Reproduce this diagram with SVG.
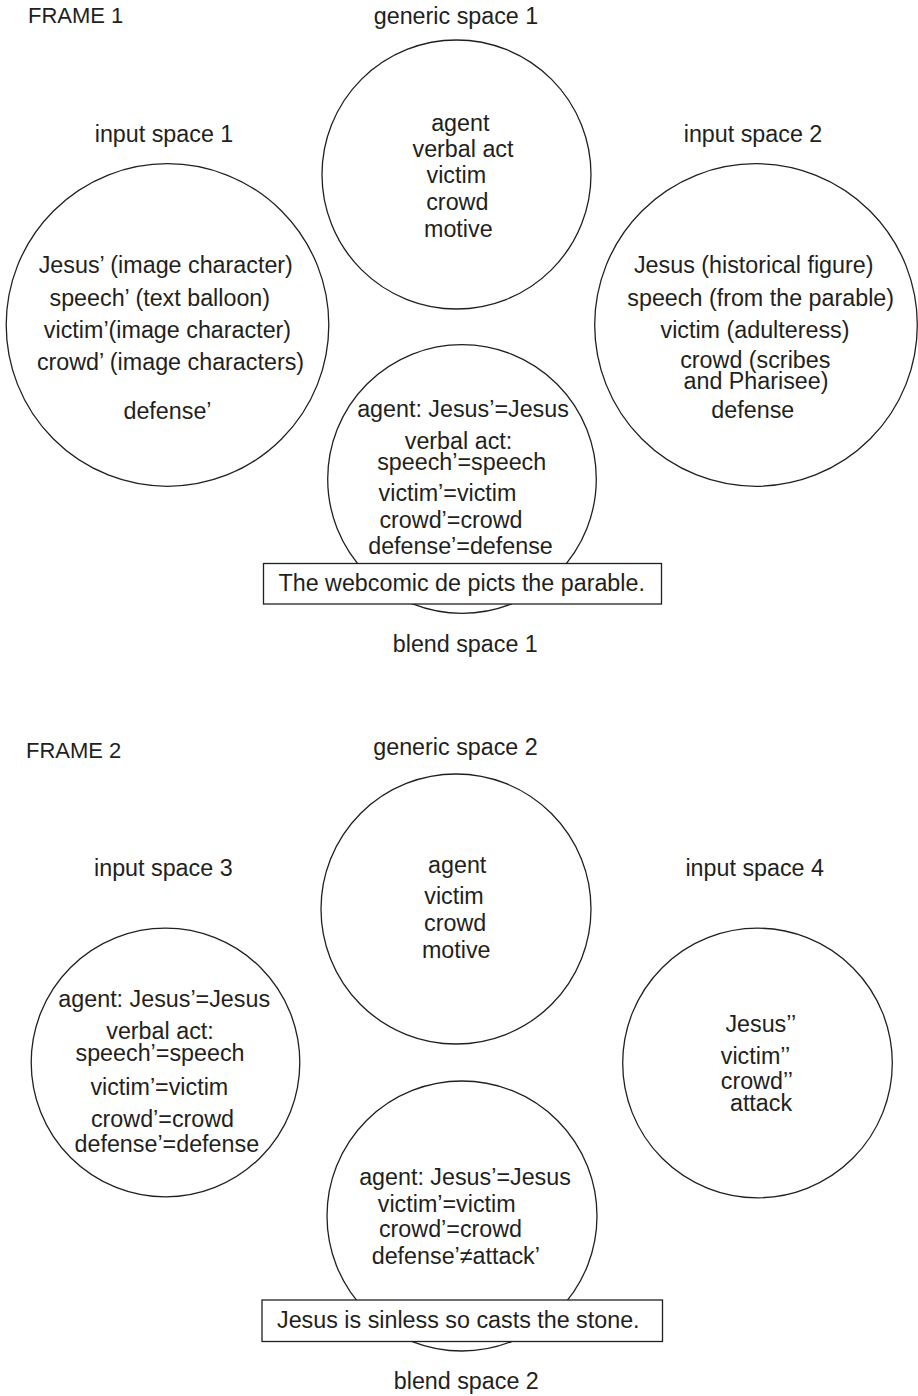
<svg xmlns="http://www.w3.org/2000/svg" width="918" height="1396" viewBox="0 0 918 1396">
<style>
text{font-family:"Liberation Sans",Arial,sans-serif;font-size:23.3px;fill:#231f20}
.c{text-anchor:middle}
.f{font-size:22px}
.sp{fill:#fff;stroke:#231f20;stroke-width:1.3}
.bx{fill:#fff;stroke:#231f20;stroke-width:1.3}
</style>
<rect width="918" height="1396" fill="#fff"/>
<text class="f" x="28" y="23.3">FRAME 1</text>
<g id="generic1">
<circle class="sp" cx="456.5" cy="174.5" r="134.5"/>
<text class="c" x="456" y="24">generic space 1</text>
<text class="c" x="460.3" y="131">agent</text>
<text class="c" x="463" y="157">verbal act</text>
<text class="c" x="456.3" y="183">victim</text>
<text class="c" x="457.3" y="210">crowd</text>
<text class="c" x="458.3" y="236.7">motive</text>
</g>
<g id="input1">
<circle class="sp" cx="167.5" cy="325" r="161.3"/>
<text class="c" x="164" y="141.7">input space 1</text>
<text class="c" x="165.8" y="273.3">Jesus’ (image character)</text>
<text class="c" x="159.8" y="306">speech’ (text balloon)</text>
<text class="c" x="167.5" y="338.3">victim’(image character)</text>
<text class="c" x="170.5" y="370">crowd’ (image characters)</text>
<text class="c" x="167.5" y="419.3">defense’</text>
</g>
<g id="input2">
<circle class="sp" cx="756" cy="325" r="161.3"/>
<text class="c" x="753" y="141.7">input space 2</text>
<text class="c" x="753.7" y="273.3">Jesus (historical figure)</text>
<text class="c" x="760.7" y="306">speech (from the parable)</text>
<text class="c" x="755" y="338.3">victim (adulteress)</text>
<text class="c" x="755.3" y="368.3">crowd (scribes</text>
<text class="c" x="756" y="389.3">and Pharisee)</text>
<text class="c" x="752.8" y="418.3">defense</text>
</g>
<g id="blend1">
<circle class="sp" cx="462" cy="479" r="134.3"/>
<text class="c" x="463" y="417.3">agent: Jesus’=Jesus</text>
<text class="c" x="458.5" y="449">verbal act:</text>
<text class="c" x="461.7" y="470">speech’=speech</text>
<text class="c" x="447.5" y="501">victim’=victim</text>
<text class="c" x="451" y="528.3">crowd’=crowd</text>
<text class="c" x="460.5" y="554">defense’=defense</text>
<rect class="bx" x="263.5" y="563.5" width="398" height="40.5"/>
<text class="c" x="461.7" y="590.7">The webcomic de picts the parable.</text>
<text class="c" x="465.3" y="651.7">blend space 1</text>
</g>
<text class="f" x="26" y="758.3">FRAME 2</text>
<g id="generic2">
<circle class="sp" cx="456" cy="909" r="135"/>
<text class="c" x="455.5" y="755">generic space 2</text>
<text class="c" x="457.2" y="873.3">agent</text>
<text class="c" x="454" y="904">victim</text>
<text class="c" x="455.2" y="930.7">crowd</text>
<text class="c" x="456.2" y="958.3">motive</text>
</g>
<g id="input3">
<circle class="sp" cx="165.5" cy="1062.5" r="134.3"/>
<text class="c" x="163.3" y="875.7">input space 3</text>
<text class="c" x="164.2" y="1006.7">agent: Jesus’=Jesus</text>
<text class="c" x="160" y="1039.3">verbal act:</text>
<text class="c" x="160" y="1061">speech’=speech</text>
<text class="c" x="159.3" y="1095">victim’=victim</text>
<text class="c" x="162.5" y="1126.7">crowd’=crowd</text>
<text class="c" x="166.8" y="1151.7">defense’=defense</text>
</g>
<g id="input4">
<circle class="sp" cx="757.5" cy="1063" r="134.8"/>
<text class="c" x="754.7" y="875.7">input space 4</text>
<text class="c" x="760.8" y="1032">Jesus’’</text>
<text class="c" x="755.5" y="1064">victim’’</text>
<text class="c" x="756.8" y="1089">crowd’’</text>
<text class="c" x="761" y="1111">attack</text>
</g>
<g id="blend2">
<circle class="sp" cx="462" cy="1216" r="135"/>
<text class="c" x="465" y="1185">agent: Jesus’=Jesus</text>
<text class="c" x="446.7" y="1211.7">victim’=victim</text>
<text class="c" x="450.5" y="1237.3">crowd’=crowd</text>
<text class="c" x="455.8" y="1264">defense’≠attack’</text>
<rect class="bx" x="262" y="1300" width="400.5" height="41.5"/>
<text class="c" x="458.3" y="1328.3">Jesus is sinless so casts the stone.</text>
<text class="c" x="466.3" y="1389.3">blend space 2</text>
</g>
<g id="connectors"></g>
</svg>
